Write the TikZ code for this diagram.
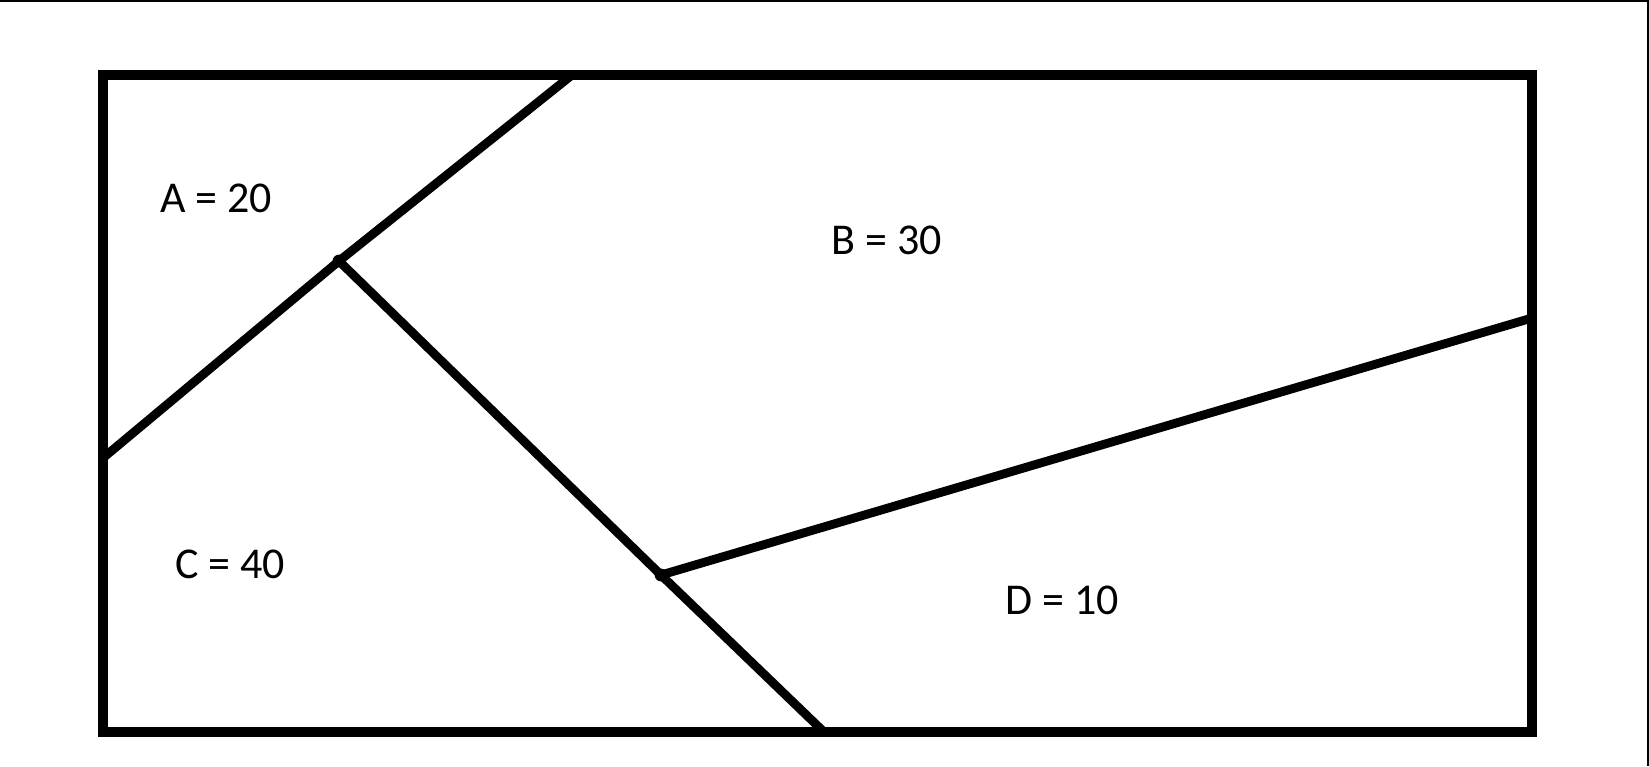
\documentclass[tikz,border=0pt]{standalone}
\usepackage{fontspec}
\setmainfont{Carlito}
\begin{document}
\begin{tikzpicture}[x=0.5pt,y=-0.5pt,
  frame/.style={line width=5pt,line join=miter},
  cut/.style={line width=4.4pt,line cap=round},
  lbl/.style={font=\fontsize{22}{26}\selectfont,inner sep=0pt}]
\useasboundingbox (0,0) rectangle (1649,766);
\draw[line width=1pt] (0,1) -- (1648,1) -- (1648,766);
\coordinate (tl) at (103,75);
\coordinate (br) at (1532,732);
\coordinate (p1) at (103,458);
\coordinate (p2) at (572,75);
\coordinate (j1) at (339,261);
\coordinate (j2) at (661,575);
\coordinate (p3) at (824,732);
\coordinate (p4) at (1532,318);
\draw[frame] (tl) rectangle (br);
\draw[cut] (p1) -- (j1) -- (p2);
\draw[cut] (j1) -- (j2) -- (p3);
\draw[cut] (j2) -- (p4);
\fill (j1) circle (3.2pt);
\fill (j2) circle (3.2pt);
\node[lbl] (a) at (216,198) {A = 20};
\node[lbl] (b) at (887,240) {B = 30};
\node[lbl] (c) at (230,564) {C = 40};
\node[lbl] (d) at (1062,600) {D = 10};
\end{tikzpicture}
\end{document}
